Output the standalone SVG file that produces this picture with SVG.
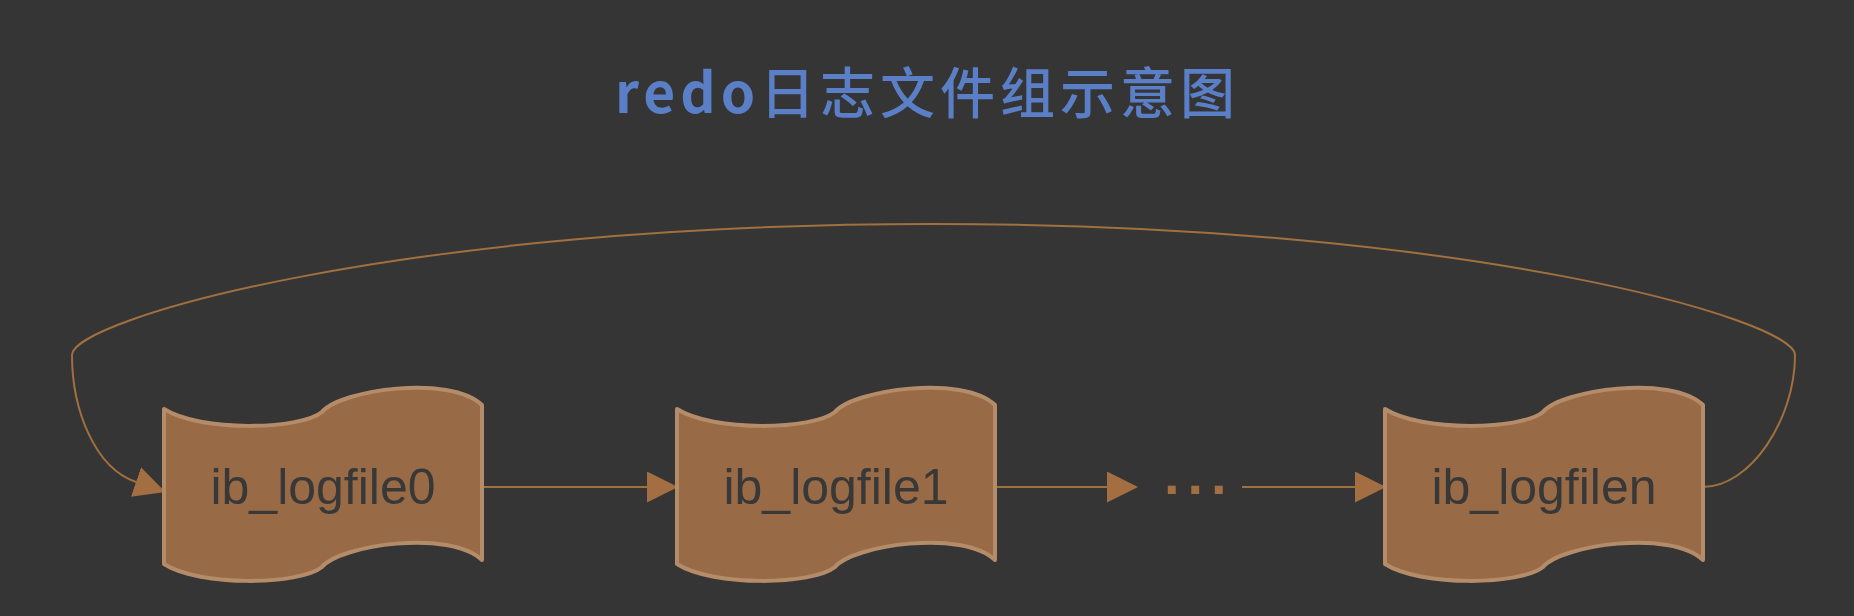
<svg xmlns="http://www.w3.org/2000/svg" xmlns:xlink="http://www.w3.org/1999/xlink" width="1854" height="616" viewBox="0 0 1854 616">
  <style>
    .bg { fill: #353535; }
    .node-shape { fill: #986b46; stroke: #b58c69; stroke-width: 4; stroke-linejoin: round; }
    .node-label { font-family: "Liberation Sans", Arial, sans-serif; font-size: 50px; fill: #383838; text-anchor: middle; }
    .title { font-family: "Noto Sans CJK SC", "Liberation Sans", sans-serif; font-size: 55px; font-weight: 500; fill: #5a7fc6; }
    .edge { fill: none; stroke: #a0703f; stroke-width: 2; }
    .dots { font-family: "Liberation Sans", Arial, sans-serif; font-size: 56px; font-weight: bold; fill: #a36f42; }
  </style>
  <defs>
    <path id="tape" d="M0,22 C36,45 136,43 158,25 C176,3 286,-13 318,18 L318,173 C286,142 176,158 158,180 C136,198 36,200 0,177 Z"/>
    <marker id="arrow" markerUnits="userSpaceOnUse" markerWidth="31" markerHeight="31" refX="0" refY="15.5" orient="auto" viewBox="0 0 31 31">
      <path d="M0,0 L31,15.5 L0,31 Z" fill="#a36f42"/>
    </marker>
  </defs>

  <rect class="bg" x="0" y="0" width="1854" height="616"/>

  <g id="title">
    <text class="title" x="615" y="113" textLength="620" lengthAdjust="spacing"><tspan font-weight="bold">redo</tspan>日志文件组示意图</text>
  </g>

  <g id="connectors">
    <path class="edge" d="M482,487 L647,487" marker-end="url(#arrow)"/>
    <path class="edge" d="M995,487 L1107,487" marker-end="url(#arrow)"/>
    <path class="edge" d="M1242,487 L1355,487" marker-end="url(#arrow)"/>
    <path class="edge" d="M1703,487 C1750,487 1795,420 1795,355 C1795,320 1466,224 933,224 C400,224 72,320 72,355 C72,410 95,468 136,482" marker-end="url(#arrow)"/>
  </g>

  <g id="node-logfile0">
    <use xlink:href="#tape" href="#tape" class="node-shape" transform="translate(164,387)"/>
    <text class="node-label" x="323" y="504">ib_logfile0</text>
  </g>

  <g id="node-logfile1">
    <use xlink:href="#tape" href="#tape" class="node-shape" transform="translate(677,387)"/>
    <text class="node-label" x="836" y="504">ib_logfile1</text>
  </g>

  <g id="node-ellipsis">
    <text class="dots" x="1164" y="494" letter-spacing="7.9">...</text>
  </g>

  <g id="node-logfilen">
    <use xlink:href="#tape" href="#tape" class="node-shape" transform="translate(1385,387)"/>
    <text class="node-label" x="1544" y="504">ib_logfilen</text>
  </g>
</svg>
